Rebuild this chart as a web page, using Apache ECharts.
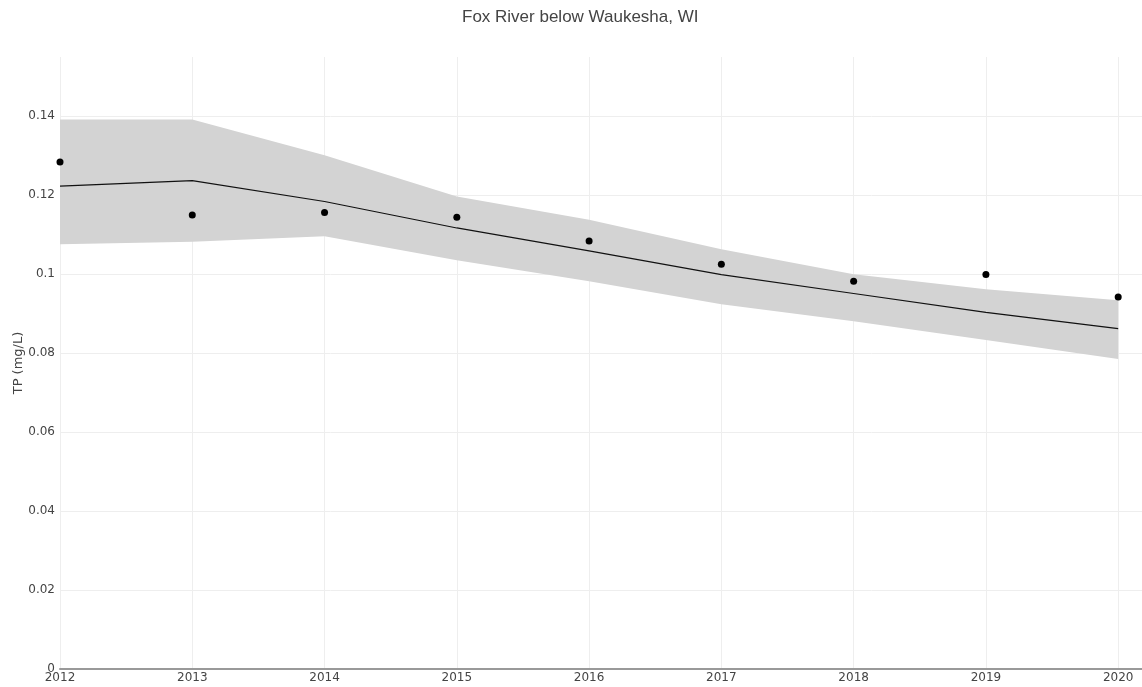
<!DOCTYPE html>
<html>
<head>
<meta charset="utf-8">
<script src="https://cdn.jsdelivr.net/npm/echarts@6/dist/echarts.min.js"></script>
<style>html,body{margin:0;padding:0;background:#fff}#c{width:1142px;height:687px}</style>
</head>
<body>
<div id="c"></div>
<script>
const years = [2012, 2013, 2014, 2015, 2016, 2017, 2018, 2019, 2020];
const observed = [0.1284, 0.1150, 0.1156, 0.1144, 0.1084, 0.1025, 0.0982, 0.0999, 0.0942];
const trend = [0.1223, 0.1237, 0.1184, 0.1117, 0.1059, 0.0999, 0.0951, 0.0903, 0.0862];
const upper = [0.1392, 0.1392, 0.1301, 0.1197, 0.1138, 0.1063, 0.1000, 0.0962, 0.0934];
const lower = [0.1076, 0.1082, 0.1096, 0.1035, 0.0982, 0.0924, 0.0881, 0.0833, 0.0785];
const titleText = 'Fox River below Waukesha, WI';
const yName = 'TP (mg/L)';

const pair = arr => years.map((y, i) => [y, arr[i]]);
const bandData = years.map((y, i) => [y, lower[i], upper[i]]);

const labelFont = 'DejaVu Sans, Verdana, sans-serif';
const chart = echarts.init(document.getElementById('c'));
chart.setOption({
  animation: false,
  backgroundColor: '#fff',
  title: {
    text: titleText, left: 457, top: 4,
    textStyle: { fontFamily: 'Liberation Sans, Arial, sans-serif', fontSize: 17, fontWeight: 'normal', color: '#444' }
  },
  grid: { left: 60, right: 0, top: 57, bottom: 18, containLabel: false, outerBoundsMode: 'none' },
  xAxis: {
    type: 'value', min: 2012, max: 2020.18, interval: 1,
    axisLine: { show: true, onZero: false, lineStyle: { color: '#999', width: 2 } },
    axisTick: { show: false },
    axisLabel: {
      color: '#444', fontSize: 12, fontFamily: labelFont, margin: 3, showMaxLabel: false,
      formatter: v => Number.isInteger(v) ? String(v) : ''
    },
    splitLine: { show: true, showMaxLine: false, lineStyle: { color: '#eeeeee', width: 1 } }
  },
  yAxis: {
    type: 'value', min: 0, max: 0.155, interval: 0.02,
    name: yName, nameLocation: 'middle', nameGap: 35, nameRotate: 90, nameMoveOverlap: false,
    nameTextStyle: { color: '#444', fontSize: 13, fontFamily: labelFont },
    axisLine: { show: false },
    axisTick: { show: false },
    axisLabel: {
      color: '#444', fontSize: 12, fontFamily: labelFont, margin: 5, showMaxLabel: false,
      formatter: v => (Math.abs(v / 0.02 - Math.round(v / 0.02)) < 1e-6) ? String(+v.toFixed(2)) : ''
    },
    splitLine: { show: true, showMaxLine: false, lineStyle: { color: '#eeeeee', width: 1 } }
  },
  series: [
    {
      name: 'band', type: 'custom', data: bandData, silent: true, z: 1,
      encode: { x: 0, y: [1, 2] },
      renderItem: function (params, api) {
        if (params.dataIndex !== 0) return null;
        const top = [], bot = [];
        for (let i = 0; i < bandData.length; i++) {
          top.push(api.coord([bandData[i][0], bandData[i][2]]));
          bot.push(api.coord([bandData[i][0], bandData[i][1]]));
        }
        const pts = top.concat(bot.reverse());
        return {
          type: 'polygon',
          shape: { points: pts },
          style: { fill: '#d3d3d3', stroke: 'none' }
        };
      }
    },
    {
      name: 'trend', type: 'line', data: pair(trend),
      symbol: 'none', lineStyle: { color: '#111', width: 1.2 }, z: 3
    },
    {
      name: 'observed', type: 'scatter', data: pair(observed),
      symbolSize: 7, itemStyle: { color: '#000', opacity: 1 }, z: 4
    }
  ]
});
</script>
</body>
</html>
